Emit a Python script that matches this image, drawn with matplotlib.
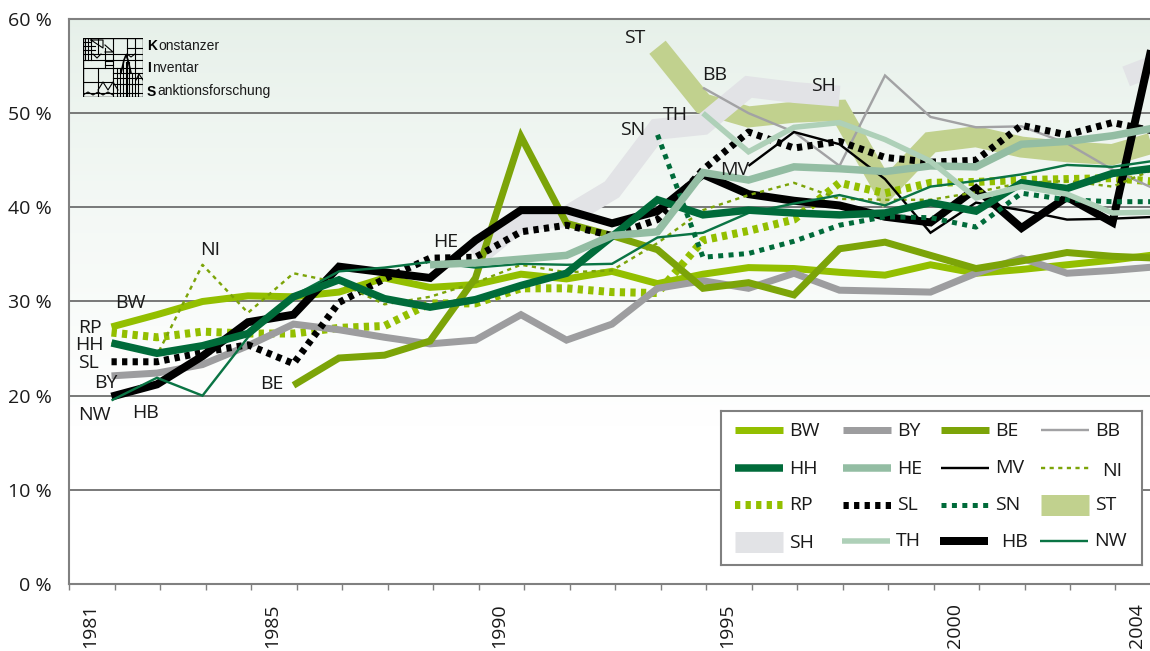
import numpy as np
import matplotlib
matplotlib.use("Agg")
import matplotlib.pyplot as plt
from matplotlib.patches import Rectangle

plt.rcParams['font.family'] = ['Open Sans', 'DejaVu Sans']
plt.rcParams['lines.scale_dashes'] = False

# -------------------------------------------------------
# DATOS (% por año, nan = sin dato)
# -------------------------------------------------------
years = np.arange(1981, 2005)
nan = np.nan

BW = [27.3, 28.6, 30.0, 30.6, 30.5, 31.0, 32.5, 31.5, 31.8, 32.9, 32.4, 33.2,
      31.9, 32.9, 33.6, 33.5, 33.1, 32.8, 33.9, 33.0, 33.4, 33.9, 34.4, 35.0]
BY = [22.1, 22.4, 23.3, 25.3, 27.6, 27.0, 26.2, 25.5, 25.9, 28.6, 25.9, 27.6,
      31.4, 32.2, 31.4, 33.0, 31.2, 31.1, 31.0, 33.0, 34.6, 33.0, 33.3, 33.7]
BE = [nan, nan, nan, nan, 21.1, 24.0, 24.3, 25.8, 32.5, 47.5, 38.3, 37.0,
      35.5, 31.4, 32.0, 30.7, 35.6, 36.3, 34.9, 33.5, 34.3, 35.2, 34.8, 34.6]
BB = [nan] * 13 + [52.7, 50.0, 48.0, 44.4, 54.0, 49.6, 48.5, 48.6, 46.8, 44.0, 41.8]
HH = [25.6, 24.5, 25.3, 26.6, 30.5, 32.3, 30.3, 29.4, 30.2, 31.7, 33.0, 36.9,
      40.8, 39.2, 39.7, 39.4, 39.2, 39.4, 40.5, 39.6, 42.6, 42.0, 43.6, 44.2]
HE = [nan] * 7 + [33.9, 34.1, 34.5, 34.9, 37.0, 37.4, 43.7, 42.9, 44.3, 44.1,
                  43.8, 44.4, 44.3, 46.7, 47.0, 47.6, 48.5]
MV = [nan] * 14 + [44.4, 48.0, 46.7, 43.0, 37.3, 40.5, 39.7, 38.7, 38.8, 39.0]
NI = [25.6, 24.3, 33.9, 28.8, 33.0, 32.0, 29.7, 30.5, 32.0, 33.9, 33.1, 33.3,
      36.2, 39.7, 41.3, 42.6, 40.9, 40.8, 40.8, 41.6, 42.6, 42.8, 42.2, 44.2]
RP = [26.7, 26.2, 26.8, 26.6, 26.6, 27.2, 27.4, 29.8, 29.8, 31.4, 31.4, 31.0,
      30.9, 36.5, 37.5, 38.7, 42.6, 41.5, 42.6, 42.7, 42.9, 43.0, 43.1, 42.7]
SL = [23.6, 23.6, 24.6, 25.4, 23.4, 29.9, 32.4, 34.6, 34.7, 37.4, 38.1, 37.0,
      38.7, 44.0, 48.0, 46.3, 47.0, 45.3, 44.8, 45.0, 48.7, 47.7, 49.0, 48.0]
SN = [nan] * 12 + [47.7, 34.7, 35.1, 36.4, 38.1, 39.0, 38.9, 37.9, 41.5, 40.8, 40.6, 40.6]
ST = [nan] * 12 + [57.0, 51.0, 49.6, 50.1, 50.3, 41.8, 46.9, 47.5, 46.4, 45.9, 45.6, 47.0]
SH = [nan] * 8 + [34.7, 38.6, 39.0, 41.9, 48.3, 48.8, 52.8, 52.2, 51.8,
                  nan, nan, nan, nan, nan, nan, nan]
SH_tail_years = [2003.3, 2004]
SH_tail = [53.9, 55.2]
TH = [nan] * 13 + [50.0, 45.9, 48.5, 49.0, 47.2, 44.9, 41.0, 42.2, 41.4, 39.4, 39.5]
HB = [19.9, 21.2, 24.2, 27.8, 28.6, 33.7, 33.1, 32.5, 36.5, 39.7, 39.7, 38.3,
      39.6, 43.5, 41.4, 40.7, 40.2, 39.0, 38.4, 42.0, 37.8, 41.1, 38.4, 60.0]
NW = [19.5, 21.9, 20.0, 26.2, 30.6, 33.2, 33.6, 34.2, 33.6, 34.0, 33.9, 34.0,
      36.8, 37.3, 39.4, 40.4, 41.3, 40.2, 42.2, 42.8, 43.5, 44.5, 44.3, 45.0]

y_ticks = [0, 10, 20, 30, 40, 50, 60]
y_labels = ['0 %', '10 %', '20 %', '30 %', '40 %', '50 %', '60 %']
label_years = [1981, 1985, 1990, 1995, 2000, 2004]

# -------------------------------------------------------
# ESTILOS
# -------------------------------------------------------
LIME = '#93bf00'
OLIVE = '#7ca408'
DARK = '#006b3a'
GREY = '#9d9d9f'
PX = 0.72  # pt por pixel a dpi 100

estilos = {
    'ST': dict(color='#c1d18e', lw=21 * PX),
    'SH': dict(color='#e2e3e6', lw=21 * PX),
    'BW': dict(color=LIME, lw=7 * PX),
    'RP': dict(color=LIME, lw=8 * PX, dashes=(3.8, 3.8)),
    'BY': dict(color=GREY, lw=7 * PX),
    'BE': dict(color=OLIVE, lw=7 * PX),
    'BB': dict(color='#a2a2a4', lw=2.4 * PX),
    'HB': dict(color='black', lw=8 * PX),
    'SL': dict(color='black', lw=7 * PX, dashes=(3.8, 3.8)),
    'NI': dict(color=OLIVE, lw=2.4 * PX, dashes=(3.0, 3.2)),
    'MV': dict(color='black', lw=2.4 * PX),
    'NW': dict(color='#0a7444', lw=2.4 * PX),
    'HH': dict(color=DARK, lw=7.5 * PX),
    'SN': dict(color=DARK, lw=5 * PX, dashes=(3.6, 3.9)),
    'HE': dict(color='#93bda3', lw=7.5 * PX),
    'TH': dict(color='#aed0b8', lw=5.5 * PX),
}

series = {'ST': ST, 'SH': SH, 'BW': BW, 'RP': RP, 'BY': BY, 'BE': BE, 'BB': BB,
          'HB': HB, 'SL': SL, 'NI': NI, 'MV': MV, 'NW': NW, 'HH': HH, 'SN': SN,
          'HE': HE, 'TH': TH}

# -------------------------------------------------------
# GRÁFICA
# -------------------------------------------------------
W, H = 1150, 651
fig = plt.figure(figsize=(W / 100, H / 100), dpi=100)

AX_L, AX_T, AX_B = 69, 19, 584
STEP = 45.5
X_1981 = 111.5
ax = fig.add_axes([AX_L / W, 1 - AX_B / H, (W - AX_L) / W, (AX_B - AX_T) / H])
x_min = 1981 - (X_1981 - AX_L) / STEP
x_max = 1981 + (W - X_1981) / STEP

# fondo degradado
grad = np.linspace(0, 1, 256).reshape(-1, 1)
tope = np.array([230, 240, 233]) / 255
base = np.array([255, 255, 255]) / 255
mezcla = np.clip(grad / 0.72, 0, 1) ** 0.8
img = tope + (base - tope) * mezcla[..., None]
ax.imshow(img, extent=(0, 1, 0, 1), transform=ax.transAxes, aspect='auto', zorder=0)
ax.set_xlim(x_min, x_max)
ax.set_ylim(0, 60)

for v in y_ticks[1:-1]:
    ax.axhline(v, color='#6e6e6e', lw=1.3, zorder=1)

for name, vals in series.items():
    kw = dict(estilos[name])
    ax.plot(years, vals, solid_capstyle='butt', dash_capstyle='butt',
            solid_joinstyle='miter', zorder=2, **kw)
    if name == 'SH':
        ax.plot(SH_tail_years, SH_tail, solid_capstyle='butt', zorder=2, **kw)

ax.spines['right'].set_visible(False)
for s in ['left', 'top', 'bottom']:
    ax.spines[s].set_color('#808080')
    ax.spines[s].set_linewidth(1.5)

ax.set_yticks(y_ticks)
ax.set_yticklabels(y_labels, fontsize=14, color='#1a1a1a')
ax.tick_params(axis='y', length=0, pad=12.5)

ax.set_xticks(x_min + np.arange(0, 24))
ax.set_xticklabels([])
ax.tick_params(axis='x', which='major', length=4, width=1, color='#808080')
ax.set_xticks(np.array(label_years) - 0.47, minor=True)
ax.set_xticklabels([str(y) for y in label_years], minor=True, rotation=90,
                   fontsize=14, color='#1a1a1a', va='top', ha='center')
ax.tick_params(axis='x', which='minor', length=0, pad=14)

# etiquetas de las series
etiquetas = [('ST', 635, 38), ('BB', 715, 75), ('SH', 824, 86), ('SN', 633, 130),
             ('TH', 675, 115), ('MV', 735, 170), ('HE', 446, 242), ('NI', 210, 250),
             ('BW', 130, 303), ('RP', 90, 328), ('HH', 89, 345), ('SL', 88, 363),
             ('BY', 106, 383), ('NW', 94, 415), ('HB', 146, 413), ('BE', 272, 384)]
for txt, px, py in etiquetas:
    fig.text(px / W, 1 - py / H, txt, fontsize=14, ha='center', va='center',
             color='#1a1a1a', zorder=6)

# -------------------------------------------------------
# LEYENDA
# -------------------------------------------------------
LX0, LX1, LY0, LY1 = 721, 1142, 411, 565
leg = fig.add_axes([LX0 / W, 1 - LY1 / H, (LX1 - LX0) / W, (LY1 - LY0) / H], zorder=5)
leg.set_xlim(LX0, LX1)
leg.set_ylim(LY1, LY0)
leg.set_xticks([])
leg.set_yticks([])
leg.set_facecolor('white')
for s in leg.spines.values():
    s.set_color('#808080')
    s.set_linewidth(1.5)

entradas = [('BW', 735, 430, 789, 431), ('BY', 843, 430, 897, 431), ('BE', 941, 430, 995, 431),
            ('BB', 1041, 430, 1095, 431), ('HH', 735, 468, 789, 469), ('HE', 843, 468, 897, 469),
            ('MV', 941, 468, 995, 468), ('NI', 1041, 468, 1102, 471), ('RP', 735, 505, 789, 505),
            ('SL', 843, 505, 897, 505), ('SN', 941, 505, 995, 505), ('ST', 1041, 505, 1095, 505),
            ('SH', 735, 542, 789, 543), ('TH', 842, 541, 896, 541), ('HB', 940, 541, 1001, 542),
            ('NW', 1040, 541, 1094, 541)]
for name, hx, hy, tx, ty in entradas:
    leg.plot([hx, hx + 48], [hy, hy], solid_capstyle='butt', dash_capstyle='butt', **estilos[name])
    leg.text(tx, ty, name, fontsize=14, va='center', ha='left', color='#1a1a1a')

# -------------------------------------------------------
# LOGO
# -------------------------------------------------------
logo = fig.add_axes([83 / W, 1 - 97 / H, 60 / W, 59 / H], zorder=5)
logo.set_xlim(0, 60)
logo.set_ylim(59, 0)
logo.axis('off')
logo.add_patch(Rectangle((0, 0), 60, 59, fill=False, ec='black', lw=1))
segs_h = [(0, 60, 16), (0, 60, 22), (0, 60, 30), (0, 30, 44), (0, 60, 55), (30, 60, 35), (30, 60, 40),
          (30, 60, 46), (0, 8, 4), (0, 12, 8), (0, 12, 12), (22, 30, 23), (22, 30, 27), (44, 60, 10)]
segs_v = [(15, 0, 16), (30, 0, 30), (44, 0, 59), (52, 0, 59), (30, 30, 59), (15, 30, 59), (37, 30, 59),
          (2, 0, 22), (5, 0, 22), (8, 0, 22), (22, 10, 30), (34, 30, 59), (40, 24, 59), (43, 24, 59),
          (46, 24, 59), (49, 35, 59), (55, 35, 59)]
for x0, x1, y in segs_h:
    logo.plot([x0, x1], [y, y], color='black', lw=0.8)
for x, y0, y1 in segs_v:
    logo.plot([x, x], [y0, y1], color='black', lw=0.8)
logo.plot([8, 20, 20, 8], [2, 10, 2, 2], color='black', lw=0.8)
logo.plot([22, 30, 22], [7, 14, 14], color='black', lw=0.8)
logo.plot([10, 14, 18], [16, 20, 16], color='black', lw=0.8)
logo.plot([44, 48, 52], [16, 19, 16], color='black', lw=0.8)
logo.plot([15, 20, 25, 30, 35], [52, 44, 52, 44, 52], color='black', lw=0.8)
logo.plot([0, 5, 10, 15, 20, 25, 30], [57, 54, 57, 54, 57, 54, 57], color='black', lw=0.8)
logo.plot([38, 41, 43, 45, 48], [35, 22, 17, 22, 35], color='black', lw=1.2)
logo.plot([53, 56, 60], [42, 36, 42], color='black', lw=0.8)

renderer = fig.canvas.get_renderer()
for inicial, resto, py in [('K', 'onstanzer', 44), ('I', 'nventar', 67), ('S', 'anktionsforschung', 90)]:
    t = fig.text(147 / W, 1 - py / H, inicial, fontsize=10, fontweight='bold', color='black',
                 family='Liberation Sans', va='center_baseline', ha='left', zorder=6)
    ancho = t.get_window_extent(renderer).width
    fig.text((147 + ancho + 1) / W, 1 - py / H, resto, fontsize=10, color='#1a1a1a',
             family='Liberation Sans', va='center_baseline', ha='left', zorder=6)

fig.savefig('out.png', dpi=100)
